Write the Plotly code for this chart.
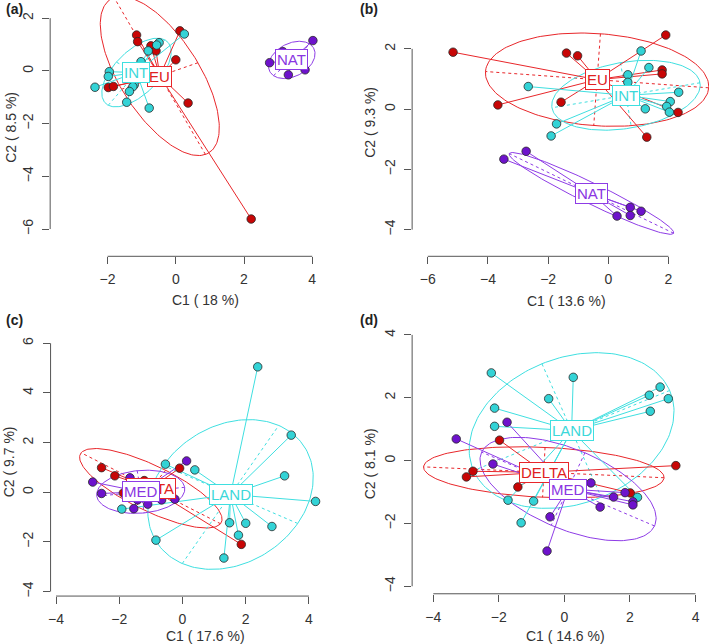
import numpy as np
import plotly.graph_objects as go

W, H = 709, 644

# ---------------- data ----------------
# Panel (a)  groups EU / INT / NAT
A_EU_X = [-1.15, -1.12, -0.73, -0.58, 0.12, 0.00, 0.36, -1.98, -1.83, 2.21]
A_EU_Y = [1.36, 1.11, 0.95, 0.76, 1.52, 0.42, -1.22, -0.63, -0.59, -5.62]
A_INT_X = [0.25, -0.49, -0.56, -0.81, -1.02, -1.95, -1.98, -2.37, -1.22, -1.26, -1.36, -1.44, -0.78]
A_INT_Y = [1.40, 1.07, 0.98, 0.76, 0.35, -0.03, -0.21, -0.62, -0.53, -0.60, -0.78, -1.19, -1.41]
A_NAT_X = [2.75, 4.02, 3.30, 3.79, 3.14]
A_NAT_Y = [0.31, 1.15, -0.15, 0.04, 0.73]

# Panel (b)  groups EU / INT / NAT
B_EU_X = [1.91, -1.39, -1.02, 1.79, 1.79, -3.67, -1.57, 2.32, 1.28, -5.16]
B_EU_Y = [2.46, 1.86, 1.77, 1.30, 1.17, 0.14, 0.23, -0.11, -0.93, 1.89]
B_INT_X = [1.09, 1.35, 0.65, 0.65, -2.66, 2.34, 2.06, 1.94, 2.03, 1.23, -1.72, -1.90]
B_INT_Y = [1.93, 1.38, 1.14, 0.89, 0.75, 0.56, 0.25, 0.09, -0.10, 0.01, -0.49, -0.89]
B_NAT_X = [-3.47, -2.73, 0.73, 1.09, 0.73, 0.29]
B_NAT_Y = [-1.66, -1.40, -3.26, -3.39, -3.53, -3.55]

# Panel (c)  groups DELTA / LAND / MED
C_DELTA_X = [-2.56, -2.14, -1.21, -1.87, -0.09, 1.86]
C_DELTA_Y = [0.99, 0.66, 0.47, -0.03, 0.97, -2.10]
C_LAND_X = [2.38, 3.44, 3.23, 4.21, 0.39, -0.54, 1.49, 2.00, 2.83, 1.77, 1.31, -0.84, -1.92]
C_LAND_Y = [5.05, 2.30, 0.66, -0.37, 0.90, 1.13, -1.23, -1.25, -1.38, -1.73, -2.65, -1.93, -0.68]
C_MED_X = [-2.84, -2.56, -1.66, 0.13, -1.42, -1.10, -1.54, -0.66, -0.24]
C_MED_Y = [0.41, -0.05, 0.58, 1.26, -0.31, -0.48, -0.66, -0.31, -0.28]

# Panel (d)  groups DELTA / LAND / MED
D_DELTA_X = [-1.98, -2.79, -2.99, -1.42, 3.40, 2.01]
D_DELTA_Y = [0.65, -0.34, -0.52, -0.84, -0.16, -1.03]
D_LAND_X = [-2.23, 0.27, -0.48, -2.13, -2.13, 2.92, 2.59, 3.17, 2.62, -1.72, -0.94, -1.32, 2.23]
D_LAND_Y = [2.79, 2.65, 1.97, 1.67, 1.09, 2.34, 2.08, 1.97, 1.57, -1.26, -1.29, -1.98, -1.17]
D_MED_X = [-3.30, -1.75, -2.18, 0.81, 1.09, 1.50, 2.09, 2.09, -0.44, -0.53, 1.85]
D_MED_Y = [0.69, 1.22, -0.11, -0.71, -1.48, -1.16, -1.31, -1.41, -1.79, -2.88, -1.02]

GROUPS_AB = ["EU", "INT", "NAT"]
GROUPS_CD = ["DELTA", "LAND", "MED"]

A_XTICKS = [-2, 0, 2, 4]
A_YTICKS = [-6, -4, -2, 0, 2]
B_XTICKS = [-6, -4, -2, 0, 2]
B_YTICKS = [-4, -2, 0, 2]
C_XTICKS = [-4, -2, 0, 2, 4]
C_YTICKS = [-4, -2, 0, 2, 4, 6]
D_XTICKS = [-4, -2, 0, 2, 4]
D_YTICKS = [-4, -2, 0, 2, 4]

A_XTITLE, A_YTITLE = "C1 ( 18 %)", "C2 ( 8.5 %)"
B_XTITLE, B_YTITLE = "C1 ( 13.6 %)", "C2 ( 9.3 %)"
C_XTITLE, C_YTITLE = "C1 ( 17.6 %)", "C2 ( 9.7 %)"
D_XTITLE, D_YTITLE = "C1 ( 14.6 %)", "C2 ( 8.1 %)"

PANEL_LETTERS = ["(a)", "(b)", "(c)", "(d)"]

# ---------------- styling ----------------
FONT = "Liberation Sans, Arial, Helvetica, sans-serif"
LINE_COL = ["#E8262A", "#3FDFE0", "#8E3CE6"]
FILL_COL = ["#C80606", "#33D3D6", "#6E12CC"]
TXT_COL = ["#E02020", "#3CD8DA", "#8A36E2"]
AXIS_COL = "#555555"
TEXT_COL = "#333333"

# pixel geometry of each panel: value-0 pixel, pixels per unit, plot box
GEOM = [
    dict(x0=174.3, sx=34.2, y0=71.0, sy=26.4, L=48.3, R=350, T=0, B=256.7,
         xt=(203.7, 300), yt=(9, 127), lab=(2, 9)),
    dict(x0=608.0, sx=30.17, y0=109.3, sy=30.17, L=411.3, R=709, T=0, B=256.7,
         xt=(566, 301), yt=(369, 122), lab=(357, 9)),
    dict(x0=181.0, sx=31.7, y0=493.0, sy=24.87, L=48.7, R=350, T=325, B=597,
         xt=(204, 637), yt=(7, 462), lab=(2, 320)),
    dict(x0=564.0, sx=32.87, y0=461.3, sy=31.47, L=411.3, R=709, T=325, B=594.7,
         xt=(565, 637), yt=(369, 464), lab=(357, 320)),
]

PANELS = [
    ([(A_EU_X, A_EU_Y), (A_INT_X, A_INT_Y), (A_NAT_X, A_NAT_Y)], GROUPS_AB,
     A_XTICKS, A_YTICKS, A_XTITLE, A_YTITLE),
    ([(B_EU_X, B_EU_Y), (B_INT_X, B_INT_Y), (B_NAT_X, B_NAT_Y)], GROUPS_AB,
     B_XTICKS, B_YTICKS, B_XTITLE, B_YTITLE),
    ([(C_DELTA_X, C_DELTA_Y), (C_LAND_X, C_LAND_Y), (C_MED_X, C_MED_Y)], GROUPS_CD,
     C_XTICKS, C_YTICKS, C_XTITLE, C_YTITLE),
    ([(D_DELTA_X, D_DELTA_Y), (D_LAND_X, D_LAND_Y), (D_MED_X, D_MED_Y)], GROUPS_CD,
     D_XTICKS, D_YTICKS, D_XTITLE, D_YTITLE),
]


def class_ellipse(xs, ys, k=1.5, n=181):
    x = np.asarray(xs, float)
    y = np.asarray(ys, float)
    mx, my = x.mean(), y.mean()
    cov = np.cov(np.vstack([x, y]), bias=True)
    vals, vecs = np.linalg.eigh(cov)
    order = vals.argsort()[::-1]
    vals, vecs = vals[order], vecs[:, order]
    a, b = k * np.sqrt(max(vals[0], 0)), k * np.sqrt(max(vals[1], 0))
    t = np.linspace(0, 2 * np.pi, n)
    ex = mx + a * np.cos(t) * vecs[0, 0] + b * np.sin(t) * vecs[0, 1]
    ey = my + a * np.cos(t) * vecs[1, 0] + b * np.sin(t) * vecs[1, 1]
    ax = [mx - a * vecs[0, 0], mx + a * vecs[0, 0], None,
          mx - b * vecs[0, 1], mx + b * vecs[0, 1]]
    ay = [my - a * vecs[1, 0], my + a * vecs[1, 0], None,
          my - b * vecs[1, 1], my + b * vecs[1, 1]]
    return (mx, my), (ex, ey), (ax, ay)


fig = go.Figure()
annotations = []
shapes = []
layout_axes = {}

for i, (groups, names, xticks, yticks, xtitle, ytitle) in enumerate(PANELS):
    g = GEOM[i]
    sfx = "" if i == 0 else str(i + 1)
    xa, ya = "x" + sfx, "y" + sfx
    xrange = [(g["L"] - g["x0"]) / g["sx"], (g["R"] - g["x0"]) / g["sx"]]
    yrange = [(g["y0"] - g["B"]) / g["sy"], (g["y0"] - g["T"]) / g["sy"]]
    common = dict(showgrid=False, zeroline=False, showline=False, ticks="outside",
                  ticklen=7, tickwidth=1, tickcolor=AXIS_COL,
                  tickfont=dict(family=FONT, size=14, color=TEXT_COL),
                  tickmode="array", fixedrange=True)
    layout_axes["xaxis" + sfx] = dict(common, domain=[g["L"] / W, g["R"] / W],
                                      range=xrange, anchor=ya, tickvals=xticks,
                                      ticklabelstandoff=3)
    layout_axes["yaxis" + sfx] = dict(common, domain=[1 - g["B"] / H, 1 - g["T"] / H],
                                      range=yrange, anchor=xa, tickvals=yticks,
                                      tickangle=-90, ticklabelstandoff=4)
    # R-style detached axis lines spanning the first to the last tick
    shapes.append(dict(type="line", xref=xa, yref=ya + " domain", x0=xticks[0],
                       x1=xticks[-1], y0=0, y1=0, line=dict(color=AXIS_COL, width=1)))
    shapes.append(dict(type="line", xref=xa + " domain", yref=ya, x0=0, x1=0,
                       y0=yticks[0], y1=yticks[-1], line=dict(color=AXIS_COL, width=1)))

    stats = [class_ellipse(gx, gy) for gx, gy in groups]
    # ellipses and their dashed axes
    for k, (cen, ell, axs) in enumerate(stats):
        fig.add_trace(go.Scatter(x=ell[0], y=ell[1], mode="lines", xaxis=xa, yaxis=ya,
                                 line=dict(color=LINE_COL[k], width=1), hoverinfo="skip"))
        fig.add_trace(go.Scatter(x=axs[0], y=axs[1], mode="lines", xaxis=xa, yaxis=ya,
                                 line=dict(color=LINE_COL[k], width=1, dash="3px,3px"),
                                 hoverinfo="skip"))
    # stars
    for k, ((gx, gy), (cen, _, _)) in enumerate(zip(groups, stats)):
        sx, sy = [], []
        for px, py in zip(gx, gy):
            sx += [cen[0], px, None]
            sy += [cen[1], py, None]
        fig.add_trace(go.Scatter(x=sx, y=sy, mode="lines", xaxis=xa, yaxis=ya,
                                 line=dict(color=LINE_COL[k], width=1), hoverinfo="skip"))
    # points
    for k, (gx, gy) in enumerate(groups):
        fig.add_trace(go.Scatter(x=gx, y=gy, mode="markers", xaxis=xa, yaxis=ya,
                                 marker=dict(size=8.5, color=FILL_COL[k],
                                             line=dict(color="#2a2a2a", width=0.8)),
                                 hoverinfo="skip"))
    # class labels
    for k, (cen, _, _) in enumerate(stats):
        annotations.append(dict(x=cen[0], y=cen[1], xref=xa, yref=ya, text=names[k],
                                showarrow=False, bgcolor="white", bordercolor=LINE_COL[k],
                                borderwidth=1, borderpad=1,
                                font=dict(family=FONT, size=15, color=TXT_COL[k])))
    # axis titles
    annotations.append(dict(x=g["xt"][0] / W, y=1 - g["xt"][1] / H, xref="paper", yref="paper",
                            text=xtitle, showarrow=False, xanchor="center", yanchor="middle",
                            font=dict(family=FONT, size=14, color=TEXT_COL)))
    annotations.append(dict(x=g["yt"][0] / W, y=1 - g["yt"][1] / H, xref="paper", yref="paper",
                            text=ytitle, showarrow=False, xanchor="center", yanchor="middle",
                            textangle=-90, font=dict(family=FONT, size=14, color=TEXT_COL)))
    # panel letter
    annotations.append(dict(x=g["lab"][0] / W, y=1 - g["lab"][1] / H, xref="paper",
                            yref="paper", text="<b>" + PANEL_LETTERS[i] + "</b>",
                            showarrow=False, xanchor="left", yanchor="middle",
                            font=dict(family=FONT, size=14, color="#222222")))

fig.update_layout(width=W, height=H, autosize=False, showlegend=False,
                  margin=dict(l=0, r=0, t=0, b=0), paper_bgcolor="white",
                  plot_bgcolor="rgba(0,0,0,0)", annotations=annotations, shapes=shapes,
                  **layout_axes)

fig.write_html("out.html", config={"displayModeBar": False},
               post_script="document.body.style.margin='0';")
